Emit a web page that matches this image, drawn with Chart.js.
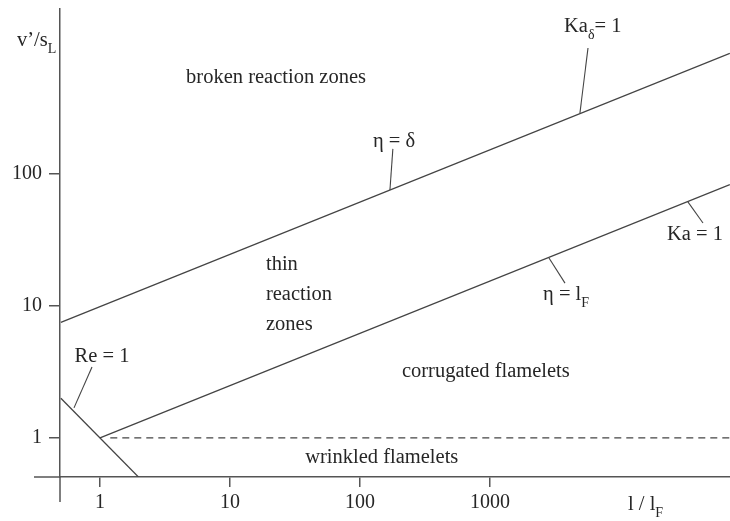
<!DOCTYPE html>
<html>
<head>
<meta charset="utf-8">
<script src="https://cdn.jsdelivr.net/npm/chart.js@4.4.1/dist/chart.umd.min.js"></script>
<style>
  html, body { margin: 0; padding: 0; background: #fff; }
  #wrap { width: 730px; height: 521px; }
</style>
</head>
<body>
<div id="wrap"><canvas id="regimeChart" width="730" height="521"></canvas></div>
<script>
// Regime lines (l/lF on x, v'/sL on y)
const kaDeltaX = [0.5, 70000];   // Ka_delta = 1  (eta = delta)
const kaDeltaY = [7.5, 820];
const kaOneX = [1, 70000];       // Ka = 1  (eta = lF)
const kaOneY = [1, 83];
const reOneX = [0.5, 2];         // Re = 1
const reOneY = [2, 0.5];
const flameX = [1.2, 70000];     // v'/sL = 1, dashed
const flameY = [1, 1];

// Short leader lines from labels to the curves
const leaderKaDeltaX = [5675, 4920];
const leaderKaDeltaY = [901, 290];
const leaderEtaDeltaX = [179, 170];
const leaderEtaDeltaY = [155, 75.6];
const leaderKaOneX = [33300, 43500];
const leaderKaOneY = [61.4, 42.5];
const leaderEtaLfX = [2844, 3776];
const leaderEtaLfY = [23.1, 14.9];
const leaderReX = [0.868, 0.631];
const leaderReY = [3.45, 1.69];

const xTicks = [1, 10, 100, 1000];
const yTicks = [1, 10, 100];

const lineColor = '#444';
const axisColor = '#555';
const textColor = '#262626';
const mainFont = '20.5px "Liberation Serif", "DejaVu Serif", serif';
const subFont = '14px "Liberation Serif", "DejaVu Serif", serif';

// label text pieces; [text, isSubscript]
const annotations = [
    { parts: [['broken reaction zones']], x: 22.6, y: 534, align: 'center' },
    { parts: [['thin']], x: 18.9, y: 20.4, align: 'left' },
    { parts: [['reaction']], x: 18.9, y: 12.1, align: 'left' },
    { parts: [['zones']], x: 18.9, y: 7.18, align: 'left' },
    { parts: [['corrugated flamelets']], x: 210, y: 3.16, align: 'left' },
    { parts: [['wrinkled flamelets']], x: 147, y: 0.706, align: 'center' },
    { parts: [['Ka'], ['\u03b4', true], ['= 1']], x: 3710, y: 1300, align: 'left' },
    { parts: [['\u03b7 = \u03b4']], x: 183, y: 175, align: 'center' },
    { parts: [['Ka = 1']], x: 37700, y: 34.5, align: 'center' },
    { parts: [['\u03b7 = l'], ['F', true]], x: 2560, y: 12.1, align: 'left' },
    { parts: [['Re = 1']], x: 1.036, y: 4.11, align: 'center' }
];

function toPoints(xs, ys) {
    return xs.map((x, i) => ({ x: x, y: ys[i] }));
}

function lineSet(xs, ys, extra) {
    return Object.assign({
        data: toPoints(xs, ys),
        showLine: true,
        borderColor: lineColor,
        borderWidth: 1.3,
        pointRadius: 0,
        fill: false
    }, extra || {});
}

// draw text made of normal and subscript pieces
function drawParts(ctx, parts, x, y, align) {
    let total = 0;
    parts.forEach(p => {
        ctx.font = p[1] ? subFont : mainFont;
        total += ctx.measureText(p[0]).width;
    });
    let cx = align === 'center' ? x - total / 2 : x;
    parts.forEach(p => {
        ctx.font = p[1] ? subFont : mainFont;
        ctx.fillText(p[0], cx, p[1] ? y + 8 : y);
        cx += ctx.measureText(p[0]).width;
    });
}

const labelPlugin = {
    id: 'labelPlugin',
    afterDraw(chart) {
        const ctx = chart.ctx;
        const area = chart.chartArea;
        const xs = chart.scales.x;
        const ys = chart.scales.y;
        ctx.save();

        // axis lines running past the origin
        ctx.strokeStyle = axisColor;
        ctx.lineWidth = 1.5;
        ctx.beginPath();
        ctx.moveTo(area.left, area.bottom);
        ctx.lineTo(area.left, area.bottom + 25);
        ctx.moveTo(area.left - 26, area.bottom);
        ctx.lineTo(area.left, area.bottom);
        ctx.stroke();

        ctx.fillStyle = textColor;
        ctx.textBaseline = 'middle';
        ctx.textAlign = 'left';
        annotations.forEach(a => {
            drawParts(ctx, a.parts, xs.getPixelForValue(a.x), ys.getPixelForValue(a.y), a.align);
        });

        // axis titles
        drawParts(ctx, [['v\u2019/s'], ['L', true]], area.left - 43, area.top + 32, 'left');
        drawParts(ctx, [['l / l'], ['F', true]], 628, area.bottom + 28, 'left');
        ctx.restore();
    }
};

const ctx = document.getElementById('regimeChart');

new Chart(ctx, {
    type: 'scatter',
    data: {
        datasets: [
            lineSet(kaDeltaX, kaDeltaY),
            lineSet(kaOneX, kaOneY),
            lineSet(reOneX, reOneY),
            lineSet(flameX, flameY, { borderDash: [7, 5], borderWidth: 1.2 }),
            lineSet(leaderKaDeltaX, leaderKaDeltaY, { borderWidth: 1.1 }),
            lineSet(leaderEtaDeltaX, leaderEtaDeltaY, { borderWidth: 1.1 }),
            lineSet(leaderKaOneX, leaderKaOneY, { borderWidth: 1.1 }),
            lineSet(leaderEtaLfX, leaderEtaLfY, { borderWidth: 1.1 }),
            lineSet(leaderReX, leaderReY, { borderWidth: 1.1 })
        ]
    },
    options: {
        responsive: false,
        animation: false,
        layout: { padding: { top: 9, right: 0, bottom: 0, left: 0 } },
        plugins: {
            legend: { display: false },
            tooltip: { enabled: false }
        },
        scales: {
            x: {
                type: 'logarithmic',
                min: 0.4924,
                max: 70200,
                afterBuildTicks: s => { s.ticks = xTicks.map(v => ({ value: v })); },
                afterFit: s => { s.height = 44; s.paddingLeft = 0; s.paddingRight = 0; },
                ticks: {
                    callback: v => String(v),
                    font: { family: '"Liberation Serif", serif', size: 20 },
                    color: textColor,
                    padding: 4,
                    maxRotation: 0,
                    autoSkip: false
                },
                grid: { drawOnChartArea: false, tickLength: 10, color: axisColor, lineWidth: 1.5 },
                border: { color: axisColor, width: 1.5 }
            },
            y: {
                type: 'logarithmic',
                min: 0.506,
                max: 1778,
                afterBuildTicks: s => { s.ticks = yTicks.map(v => ({ value: v })); },
                afterFit: s => { s.width = 60; s.paddingTop = 0; s.paddingBottom = 0; },
                ticks: {
                    callback: v => String(v),
                    font: { family: '"Liberation Serif", serif', size: 20 },
                    color: textColor,
                    padding: 7,
                    autoSkip: false
                },
                grid: { drawOnChartArea: false, tickLength: 11, color: axisColor, lineWidth: 1.5 },
                border: { color: axisColor, width: 1.5 }
            }
        }
    },
    plugins: [labelPlugin]
});
</script>
</body>
</html>
